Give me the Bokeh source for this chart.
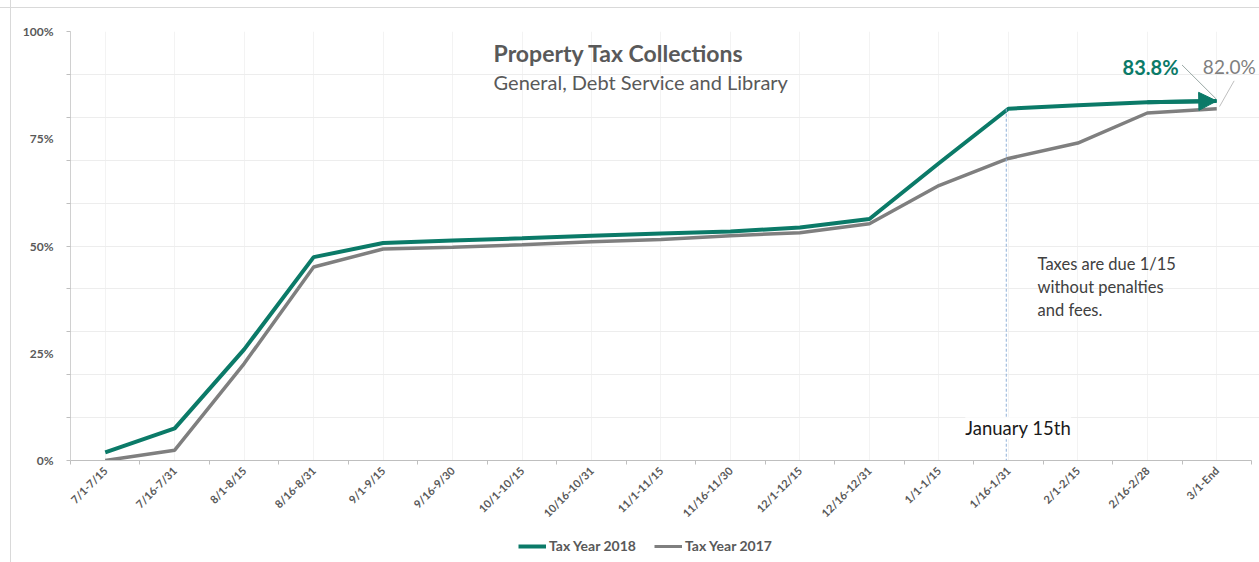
import math
from bokeh.plotting import figure
from bokeh.layouts import column
from bokeh.models import (FixedTicker, Range1d, Label, Arrow, NormalHead,
                          Legend, LegendItem, ColumnDataSource)
from bokeh.embed import file_html
from bokeh.resources import INLINE

periods = ["7/1-7/15", "7/16-7/31", "8/1-8/15", "8/16-8/31", "9/1-9/15",
           "9/16-9/30", "10/1-10/15", "10/16-10/31", "11/1-11/15",
           "11/16-11/30", "12/1-12/15", "12/16-12/31", "1/1-1/15",
           "1/16-1/31", "2/1-2/15", "2/16-2/28", "3/1-End"]
tax_2018 = [1.9, 7.5, 25.9, 47.4, 50.7, 51.3, 51.8, 52.4, 52.9, 53.4, 54.3,
            56.3, 69.3, 82.0, 82.8, 83.5, 83.8]
tax_2017 = [0.0, 2.4, 22.6, 45.1, 49.3, 49.7, 50.3, 51.0, 51.5, 52.4, 53.1,
            55.2, 64.1, 70.4, 74.0, 81.0, 82.0]
y_label_ticks = [0, 25, 50, 75, 100]
y_grid_ticks = [0, 10, 20, 30, 40, 50, 60, 70, 80, 90, 100]
note_lines = ["Taxes are due 1/15", "without penalties", "and fees."]
due_index = 13  # "1/16-1/31"

GREEN = "#0b7a68"
GRAY = "#7f7f7f"
TXT = "#595959"
FONT = "Lato"
BORDER_CSS = ("linear-gradient(to right, transparent 10px, #d9d9d9 10px, #d9d9d9 11px, transparent 11px)")
BORDER_CSS_TOP = ("linear-gradient(to right, transparent 10px, #d9d9d9 10px, #d9d9d9 11px, transparent 11px), "
                  "linear-gradient(to bottom, transparent 7px, #d9d9d9 7px, #d9d9d9 8px, transparent 8px)")

n = len(periods)
xs = list(range(n))
src = ColumnDataSource(dict(x=xs, period=periods, y18=tax_2018, y17=tax_2017))

p = figure(width=1259, height=526, output_backend="svg", toolbar_location=None,
           x_range=Range1d(-0.5, n - 0.5 + 8 / 69.47), y_range=Range1d(0, 100),
           min_border_left=70, min_border_top=31, min_border_right=0,
           min_border_bottom=66)
p.outline_line_color = None
p.background_fill_color = "white"
p.border_fill_alpha = 0
p.styles = {"background": BORDER_CSS_TOP}

# axes
p.yaxis.ticker = FixedTicker(ticks=y_label_ticks, minor_ticks=y_grid_ticks)
p.yaxis.major_label_overrides = {t: f"{t}%" for t in y_label_ticks}
p.yaxis.major_tick_out = 0
p.yaxis.major_tick_in = 0
p.yaxis.minor_tick_out = 4
p.yaxis.minor_tick_in = 0
p.yaxis.minor_tick_line_color = "#bfbfbf"
p.yaxis.axis_line_color = "#d0d0d0"
p.yaxis.major_label_text_font = FONT
p.yaxis.major_label_text_font_style = "bold"
p.yaxis.major_label_text_font_size = "12px"
p.yaxis.major_label_text_color = TXT
p.yaxis.major_label_standoff = 13

p.xaxis.ticker = FixedTicker(ticks=xs, minor_ticks=[i - 0.5 for i in range(n + 1)])
p.xaxis.major_label_overrides = {i: s for i, s in enumerate(periods)}
p.xaxis.major_label_orientation = math.pi / 4
p.xaxis.bounds = (-0.5, n - 0.5)
p.xaxis.major_tick_out = 0
p.xaxis.major_tick_in = 0
p.xaxis.minor_tick_out = 4
p.xaxis.minor_tick_in = 0
p.xaxis.minor_tick_line_color = "#bfbfbf"
p.xaxis.axis_line_color = "#bfbfbf"
p.xaxis.major_label_text_font = FONT
p.xaxis.major_label_text_font_style = "bold"
p.xaxis.major_label_text_font_size = "11px"
p.xaxis.major_label_text_color = TXT
p.xaxis.major_label_standoff = 4

p.ygrid.ticker = FixedTicker(ticks=y_grid_ticks)
p.ygrid.grid_line_color = "#ededed"
p.ygrid.bounds = (-0.5, n - 0.5)
p.xgrid.grid_line_color = "#f3f3f3"

# series
r17 = p.line("x", "y17", source=src, line_color=GRAY, line_width=3.5)
r18 = p.line("x", "y18", source=src, line_color=GREEN, line_width=4)
p.add_layout(Arrow(end=NormalHead(size=18, fill_color=GREEN, line_color=GREEN),
                   x_start=xs[-2], y_start=tax_2018[-2], x_end=xs[-1], y_end=tax_2018[-1],
                   line_color=GREEN, line_width=4))

# due date marker
p.add_layout(Arrow(end=None, x_start=due_index - 0.03, y_start=tax_2018[due_index],
                   x_end=due_index - 0.03, y_end=0, line_color="#8fb0d8",
                   line_width=1, line_dash="3 2"))
p.add_layout(Label(x=12.38, y=7.5, text="January 15th", text_font=FONT,
                   text_font_size="18.5px", text_color="#1a1a1a",
                   text_baseline="middle", background_fill_color="white",
                   background_fill_alpha=1.0))
for txt, yy in zip(note_lines, [45.9, 40.5, 35.0]):
    p.add_layout(Label(x=13.42, y=yy, text=txt, text_font=FONT,
                       text_font_size="16.5px", text_color="#404040",
                       text_baseline="middle"))

# title
p.add_layout(Label(x=5.59, y=95.0, text="Property Tax Collections", text_font=FONT,
                   text_font_size="23px", text_font_style="bold", text_color=TXT,
                   text_baseline="middle"))
p.add_layout(Label(x=5.59, y=88.3, text="General, Debt Service and Library", text_font=FONT,
                   text_font_size="20px", text_color=TXT, text_baseline="middle"))

# end labels
p.add_layout(Label(x=15.45, y=91.8, text=f"{tax_2018[-1]:.1f}%", text_font=FONT,
                   text_font_size="20px", text_font_style="bold", text_color=GREEN,
                   text_align="right", text_baseline="middle"))
p.add_layout(Label(x=15.80, y=91.8, text=f"{tax_2017[-1]:.1f}%", text_font=FONT,
                   text_font_size="19px", text_color=GRAY,
                   text_align="left", text_baseline="middle"))
p.add_layout(Arrow(end=None, x_start=15.50, y_start=92.2, x_end=xs[-1] - 0.01,
                   y_end=tax_2018[-1] + 0.5, line_color="#9aa8a5", line_width=1))
p.add_layout(Arrow(end=None, x_start=16.25, y_start=88.5, x_end=xs[-1] + 0.04,
                   y_end=tax_2017[-1] + 0.5, line_color="#bfbfbf", line_width=1))

# legend strip below the chart (same series, viewed off-range so only the key shows)
lg = figure(width=1259, height=36, output_backend="svg", toolbar_location=None,
            x_range=Range1d(-200, -199), y_range=Range1d(-200, -199),
            min_border=0)
lg.axis.visible = False
lg.grid.visible = False
lg.outline_line_color = None
lg.border_fill_alpha = 0
lg.background_fill_color = "white"
lg.styles = {"background": BORDER_CSS}
l18 = lg.line("x", "y18", source=src, line_color=GREEN, line_width=4)
l17 = lg.line("x", "y17", source=src, line_color=GRAY, line_width=3)
legend = Legend(items=[LegendItem(label="Tax Year 2018", renderers=[l18]),
                       LegendItem(label="Tax Year 2017", renderers=[l17])],
                orientation="horizontal", location=(448, 8),
                label_text_font=FONT, label_text_font_size="14px",
                label_text_font_style="bold", label_text_color=TXT,
                border_line_alpha=0, background_fill_alpha=0,
                glyph_width=28, glyph_height=12, spacing=18, padding=0, margin=0,
                label_standoff=3)
lg.add_layout(legend)

layout = column(p, lg, spacing=0)
open("out.html", "w").write(file_html(layout, INLINE))
